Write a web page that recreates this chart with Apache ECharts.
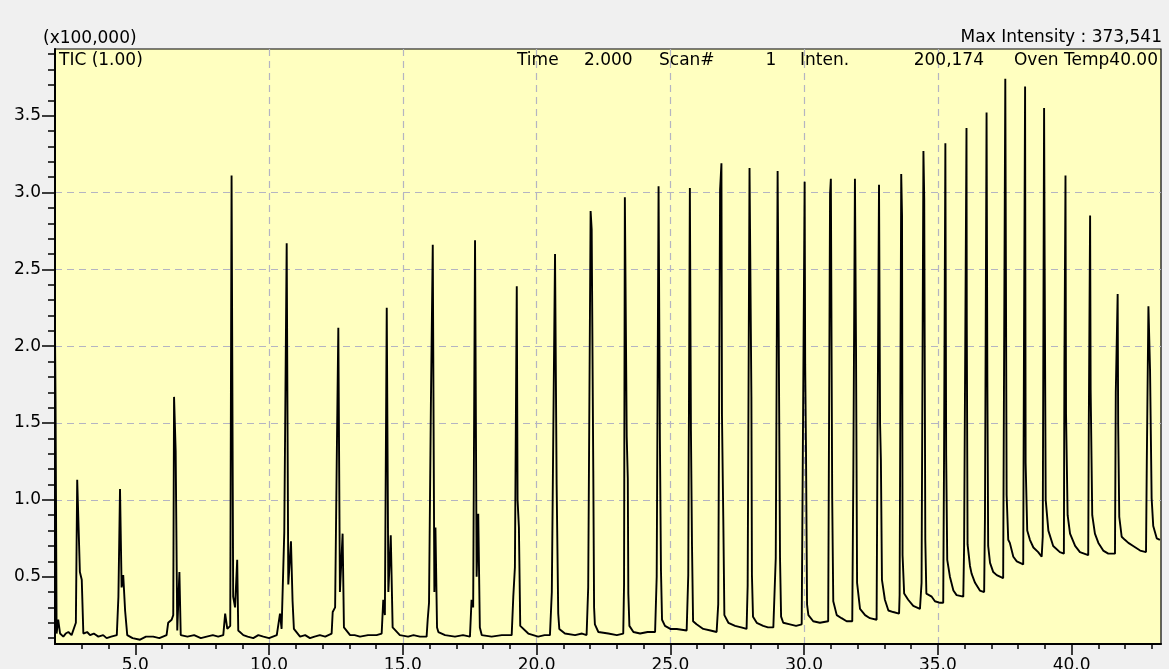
<!DOCTYPE html>
<html>
<head>
<meta charset="utf-8">
<script src="https://cdn.jsdelivr.net/npm/echarts@6/dist/echarts.min.js"></script>
<style>
html,body{margin:0;padding:0;background:#f0f0f0;}
#c{width:1169px;height:669px;}
</style>
</head>
<body>
<div id="c"></div>
<script>
// Retention time (min)
const times = [
2.00,2.02,2.06,2.12,2.19,2.31,2.40,2.50,2.62,2.78,2.83,2.93,3.00,3.06,3.20,3.31,3.45,3.62,3.80,3.93,4.10,4.31,4.37,4.43,4.49,4.55,4.62,4.70,4.90,5.18,5.40,5.67,5.90,6.17,6.23,6.36,6.42,6.45,6.51,6.57,6.65,6.70,6.95,7.20,7.45,7.67,7.90,8.10,8.29,8.36,8.44,8.55,8.60,8.66,8.73,8.81,8.85,9.04,9.20,9.41,9.60,9.79,10.00,
10.29,10.41,10.47,10.57,10.66,10.72,10.82,10.88,10.93,11.16,11.35,11.53,11.70,11.90,12.10,12.34,12.38,12.47,12.53,12.59,12.65,12.75,12.80,13.03,13.20,13.40,13.70,14.02,14.21,14.27,14.33,14.40,14.46,14.55,14.62,14.89,15.20,15.40,15.64,15.89,15.93,15.98,
16.05,16.12,16.18,16.22,16.28,16.33,16.58,16.95,17.25,17.51,17.57,17.63,17.70,17.76,17.82,17.88,17.95,18.32,18.70,19.07,19.13,19.19,19.26,19.29,19.34,19.39,19.69,20.06,20.30,20.50,20.57,20.63,20.69,20.75,20.81,20.85,21.06,21.44,21.70,21.87,21.93,
22.02,22.06,22.12,22.15,22.18,22.31,22.68,23.00,23.24,23.27,23.30,23.37,23.41,23.43,23.47,23.62,23.87,24.15,24.43,24.49,24.56,24.61,24.65,24.69,24.80,25.00,25.24,25.61,25.67,25.73,25.77,25.81,25.85,25.98,26.23,26.50,26.73,26.79,26.86,26.91,26.93,26.98,
27.02,27.17,27.42,27.65,27.85,27.89,27.96,28.03,28.05,28.09,28.23,28.47,28.65,28.85,28.94,29.01,29.05,29.10,29.14,29.22,29.47,29.70,29.91,29.95,30.02,30.04,30.07,30.11,30.16,30.34,30.59,30.90,30.97,31.00,31.05,31.09,31.22,31.40,31.59,31.80,
31.84,31.90,31.94,31.98,32.09,32.28,32.46,32.71,32.74,32.80,32.84,32.87,32.91,33.02,33.15,33.33,33.55,33.57,33.63,33.66,33.68,33.74,33.89,34.08,34.33,34.39,34.46,34.49,34.53,34.57,34.77,34.89,35.08,35.20,35.23,35.28,35.31,35.35,
35.45,35.58,35.70,35.95,35.98,36.07,36.08,36.11,36.20,36.26,36.39,36.57,36.73,36.76,36.82,36.85,36.88,36.95,37.07,37.20,37.44,37.48,37.52,37.57,37.63,37.69,37.82,37.95,38.07,38.19,38.22,38.26,38.28,38.34,38.44,38.57,38.75,38.88,
38.92,38.97,38.99,39.03,39.13,39.31,39.56,39.71,39.73,39.77,39.79,39.85,39.94,40.13,40.31,40.62,40.64,40.69,40.71,40.77,40.87,41.00,41.18,41.37,41.62,41.65,41.72,41.74,41.78,41.87,41.99,42.12,42.30,42.56,42.78,42.81,42.87,42.93,
42.99,43.05,43.18,43.30
];
// TIC intensity (x100,000)
const intensity = [
2.08,1.64,0.13,0.22,0.13,0.11,0.13,0.14,0.12,0.20,1.13,0.53,0.48,0.13,0.14,0.12,0.13,0.11,0.12,0.10,0.11,0.12,0.37,1.07,0.43,0.51,0.28,0.12,0.10,0.09,0.11,0.11,0.10,0.12,0.20,0.22,0.25,1.67,1.32,0.15,0.53,0.12,0.11,0.12,0.10,0.11,0.12,0.11,0.12,0.26,0.16,0.18,3.11,0.37,0.30,0.61,0.15,0.12,0.11,0.10,0.12,0.11,0.10,
0.12,0.26,0.16,0.79,2.67,0.45,0.73,0.34,0.16,0.11,0.12,0.10,0.11,0.12,0.11,0.13,0.27,0.30,1.24,2.12,0.40,0.78,0.17,0.12,0.12,0.11,0.12,0.12,0.13,0.35,0.25,2.25,0.40,0.77,0.17,0.12,0.11,0.12,0.11,0.11,0.22,0.33,
1.62,2.66,0.40,0.82,0.17,0.14,0.12,0.11,0.12,0.11,0.35,0.30,2.69,0.50,0.91,0.17,0.12,0.11,0.12,0.12,0.37,0.56,2.39,1.00,0.82,0.18,0.13,0.11,0.12,0.12,0.40,1.52,2.60,1.10,0.26,0.16,0.13,0.12,0.13,0.12,0.43,
2.88,2.76,1.19,0.30,0.19,0.14,0.13,0.12,0.13,0.45,2.97,1.41,1.14,0.39,0.18,0.14,0.13,0.14,0.14,0.50,3.04,1.39,0.54,0.22,0.18,0.16,0.16,0.15,0.51,3.03,1.45,0.70,0.21,0.19,0.16,0.15,0.14,0.32,3.02,3.19,1.55,0.87,
0.25,0.20,0.18,0.17,0.16,0.44,3.16,1.67,0.51,0.24,0.20,0.18,0.17,0.17,0.62,3.14,2.11,0.62,0.24,0.20,0.19,0.18,0.19,0.20,3.07,1.88,1.34,0.32,0.25,0.21,0.20,0.21,2.99,3.09,1.01,0.34,0.25,0.23,0.21,0.21,
1.17,3.09,2.00,0.46,0.29,0.25,0.23,0.22,1.26,3.05,1.49,1.26,0.48,0.35,0.28,0.27,0.26,0.38,3.12,2.85,0.64,0.39,0.35,0.31,0.29,0.46,3.27,2.96,0.74,0.39,0.37,0.34,0.33,0.33,1.24,3.32,1.29,0.61,
0.50,0.41,0.38,0.37,0.69,3.42,2.16,0.71,0.57,0.52,0.46,0.41,0.40,0.89,3.52,1.77,0.70,0.59,0.53,0.51,0.49,0.48,3.74,1.03,0.74,0.72,0.63,0.60,0.59,0.58,2.07,3.69,1.24,0.80,0.74,0.69,0.66,0.63,
0.76,3.55,2.59,1.00,0.80,0.70,0.66,0.65,1.88,3.11,1.56,0.90,0.78,0.70,0.66,0.64,1.45,2.85,1.72,0.90,0.78,0.72,0.67,0.65,0.65,1.70,2.34,1.48,0.89,0.76,0.74,0.72,0.70,0.67,0.66,1.26,2.26,1.85,
1.01,0.83,0.75,0.74
];
const xMajorTicks = [5, 10, 15, 20, 25, 30, 35, 40];
const xMinorTicks = [3,4,6,7,8,9,11,12,13,14,16,17,18,19,21,22,23,24,26,27,28,29,31,32,33,34,36,37,38,39,41,42,43];
const yMajorTicks = [0.5, 1.0, 1.5, 2.0, 2.5, 3.0, 3.5];
const yMinorTicks = [0.1,0.2,0.3,0.4,0.6,0.7,0.8,0.9,1.1,1.2,1.3,1.4,1.6,1.7,1.8,1.9,2.1,2.2,2.3,2.4,2.6,2.7,2.8,2.9,3.1,3.2,3.3,3.4,3.6,3.7,3.8,3.9];
const X_MIN = 2.0, X_MAX = 43.34, Y_MIN = 0.062, Y_MAX = 3.934;

const FONT = 'DejaVu Sans, Verdana, sans-serif';
const chart = echarts.init(document.getElementById('c'), null, {renderer: 'canvas'});
const data = times.map((t, i) => [t, intensity[i]]);

function txt(text, x, y, align) {
  return {type: 'text', x: x, y: y, z: 100,
    style: {text: text, fill: '#000', font: '17px ' + FONT, align: align, verticalAlign: 'middle',
            textAlign: align, textVerticalAlign: 'middle'}};
}

const dashed = {color: '#b4b4c2', type: [7, 5], width: 1.2};

chart.setOption({
  animation: false,
  backgroundColor: '#f0f0f0',
  grid: {left: 55, right: 8, top: 49, bottom: 25, show: true, backgroundColor: '#ffffc0',
         borderColor: '#000', borderWidth: 1.2, containLabel: false, outerBoundsMode: 'none'},
  xAxis: [
    {type: 'value', min: X_MIN, max: X_MAX, splitNumber: 8, position: 'bottom',
     axisLine: {show: true, onZero: false, lineStyle: {color: '#000', width: 2}},
     axisTick: {show: true, inside: false, length: 11, customValues: xMajorTicks, lineStyle: {color: '#000', width: 1.5}},
     axisLabel: {show: true, margin: 13, customValues: xMajorTicks, color: '#000', fontSize: 17, fontFamily: FONT,
                 formatter: v => v.toFixed(1)},
     splitLine: {show: true, showMinLine: false, showMaxLine: false, lineStyle: dashed},
     minorTick: {show: false}},
    {type: 'value', min: X_MIN, max: X_MAX, position: 'bottom', offset: 0,
     axisLine: {show: false},
     axisTick: {show: true, inside: false, length: 5, customValues: xMinorTicks, lineStyle: {color: '#000', width: 1.5}},
     axisLabel: {show: false}, splitLine: {show: false}}
  ],
  yAxis: [
    {type: 'value', min: Y_MIN, max: Y_MAX, splitNumber: 8, position: 'left',
     axisLine: {show: true, onZero: false, lineStyle: {color: '#000', width: 2}},
     axisTick: {show: true, inside: false, length: 13, customValues: yMajorTicks, lineStyle: {color: '#000', width: 1.5}},
     axisLabel: {show: true, margin: 14, customValues: yMajorTicks, color: '#000', fontSize: 17, fontFamily: FONT,
                 formatter: v => v.toFixed(1)},
     splitLine: {show: true, showMinLine: false, showMaxLine: false, lineStyle: dashed}},
    {type: 'value', min: Y_MIN, max: Y_MAX, position: 'left', offset: 0,
     axisLine: {show: false},
     axisTick: {show: true, inside: false, length: 7, customValues: yMinorTicks, lineStyle: {color: '#000', width: 1.5}},
     axisLabel: {show: false}, splitLine: {show: false}}
  ],
  series: [{
    type: 'line', xAxisIndex: 0, yAxisIndex: 0, data: data, showSymbol: false, symbol: 'none',
    sampling: null, clip: true,
    lineStyle: {color: '#000', width: 1.9}
  }],
  graphic: [
    txt('(x100,000)', 43, 39, 'left'),
    txt('Max Intensity : 373,541', 1162, 38, 'right'),
    txt('TIC (1.00)', 59, 61, 'left'),
    txt('Time', 517, 61, 'left'),
    txt('2.000', 584, 61, 'left'),
    txt('Scan#', 659, 61, 'left'),
    txt('1', 771, 61, 'center'),
    txt('Inten.', 800, 61, 'left'),
    txt('200,174', 984, 61, 'right'),
    txt('Oven Temp40.00', 1158, 61, 'right')
  ]
});
</script>
</body>
</html>
